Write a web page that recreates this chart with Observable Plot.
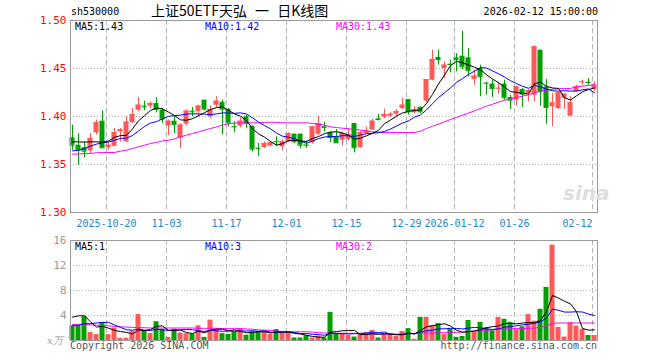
<!DOCTYPE html>
<html><head><meta charset="utf-8">
<script src="https://cdn.jsdelivr.net/npm/d3@7"></script>
<script src="https://cdn.jsdelivr.net/npm/@observablehq/plot@0.6"></script>
<style>
body{margin:0;background:#fff;}
#wrap{position:relative;width:660px;height:360px;overflow:hidden;font-family:"DejaVu Sans Mono",monospace;}
#wrap svg{position:absolute;left:0;}
.abs{position:absolute;white-space:pre;line-height:10px;font-size:10px;}
</style></head><body><div id="wrap"></div>
<script>
// ---------- data ----------
const dates = [
"2025-10-10","2025-10-13","2025-10-14","2025-10-15","2025-10-16","2025-10-17","2025-10-20","2025-10-21","2025-10-22","2025-10-23",
"2025-10-24","2025-10-27","2025-10-28","2025-10-29","2025-10-30","2025-10-31","2025-11-03","2025-11-04","2025-11-05","2025-11-06",
"2025-11-07","2025-11-10","2025-11-11","2025-11-12","2025-11-13","2025-11-14","2025-11-17","2025-11-18","2025-11-19","2025-11-20",
"2025-11-21","2025-11-24","2025-11-25","2025-11-26","2025-11-27","2025-11-28","2025-12-01","2025-12-02","2025-12-03","2025-12-04",
"2025-12-05","2025-12-08","2025-12-09","2025-12-10","2025-12-11","2025-12-12","2025-12-15","2025-12-16","2025-12-17","2025-12-18",
"2025-12-19","2025-12-22","2025-12-23","2025-12-24","2025-12-25","2025-12-26","2025-12-29","2025-12-30","2025-12-31","2026-01-05",
"2026-01-06","2026-01-07","2026-01-08","2026-01-09","2026-01-12","2026-01-13","2026-01-14","2026-01-15","2026-01-16","2026-01-19",
"2026-01-20","2026-01-21","2026-01-22","2026-01-23","2026-01-26","2026-01-27","2026-01-28","2026-01-29","2026-01-30","2026-02-02",
"2026-02-03","2026-02-04","2026-02-05","2026-02-06","2026-02-09","2026-02-10","2026-02-11","2026-02-12"];

const open = [
1.3778,1.3701,1.3674,1.3642,1.3830,1.3951,1.3674,1.3691,1.3840,1.3736,
1.3938,1.4066,1.4108,1.4108,1.4135,1.4066,1.3903,1.3951,1.3778,1.3920,
1.4056,1.4049,1.4170,1.3997,1.4118,1.4149,1.4073,1.3896,1.3899,1.3997,
1.3899,1.3670,1.3677,1.3691,1.3740,1.3684,1.3736,1.3816,1.3816,1.3705,
1.3726,1.3816,1.3892,1.3830,1.3788,1.3753,1.3760,1.3927,1.3674,1.3823,
1.3858,1.3976,1.3993,1.4003,1.4024,1.4083,1.4177,1.4038,1.4094,1.4160,
1.4378,1.4615,1.4500,1.4545,1.4611,1.4628,1.4611,1.4385,1.4500,1.4350,
1.4337,1.4290,1.4337,1.4198,1.4170,1.4281,1.4240,1.4222,1.4691,1.4309,
1.4101,1.4083,1.4188,1.4003,1.4257,1.4358,1.4356,1.4281];
const high = [
1.3910,1.3823,1.3736,1.3823,1.3962,1.4059,1.3726,1.3875,1.3875,1.3997,
1.4083,1.4198,1.4160,1.4153,1.4198,1.4083,1.3962,1.3997,1.3927,1.4066,
1.4094,1.4118,1.4170,1.4108,1.4205,1.4170,1.4083,1.3944,1.3986,1.4014,
1.3899,1.3719,1.3736,1.3736,1.3788,1.3753,1.3830,1.3816,1.3816,1.3747,
1.3892,1.4003,1.3941,1.3840,1.3865,1.3840,1.3875,1.3927,1.3847,1.3892,
1.3969,1.4021,1.4076,1.4038,1.4073,1.4188,1.4177,1.4101,1.4101,1.4385,
1.4691,1.4691,1.4569,1.4587,1.4656,1.4889,1.4708,1.4483,1.4535,1.4350,
1.4378,1.4351,1.4378,1.4222,1.4316,1.4292,1.4281,1.4736,1.4691,1.4385,
1.4240,1.4247,1.4233,1.4205,1.4326,1.4378,1.4396,1.4361];
const low = [
1.3649,1.3493,1.3573,1.3615,1.3806,1.3667,1.3649,1.3684,1.3736,1.3726,
1.3927,1.4049,1.4059,1.4083,1.4038,1.3927,1.3799,1.3823,1.3667,1.3899,
1.3997,1.3997,1.4059,1.3976,1.4094,1.3806,1.3892,1.3830,1.3882,1.3872,
1.3632,1.3587,1.3667,1.3684,1.3684,1.3642,1.3726,1.3719,1.3663,1.3667,
1.3712,1.3802,1.3840,1.3726,1.3719,1.3691,1.3747,1.3622,1.3670,1.3816,
1.3858,1.3955,1.3976,1.3990,1.3997,1.4073,1.4014,1.4031,1.4031,1.4142,
1.4372,1.4535,1.4396,1.4455,1.4465,1.4490,1.4413,1.4326,1.4205,1.4222,
1.4198,1.4233,1.4170,1.4073,1.4108,1.4094,1.4153,1.4153,1.4108,1.3920,
1.3892,1.4073,1.4073,1.4003,1.4257,1.4326,1.4326,1.4257];
const close = [
1.3701,1.3649,1.3639,1.3771,1.3934,1.3674,1.3701,1.3833,1.3861,1.3941,
1.4021,1.4118,1.4101,1.4135,1.4073,1.3972,1.3951,1.3917,1.3910,1.4056,
1.4049,1.4108,1.4076,1.4073,1.4160,1.4076,1.3934,1.3892,1.3951,1.3927,
1.3660,1.3667,1.3719,1.3726,1.3736,1.3736,1.3823,1.3736,1.3701,1.3701,
1.3892,1.3927,1.3885,1.3781,1.3726,1.3823,1.3813,1.3674,1.3833,1.3851,
1.3951,1.3969,1.4021,1.4024,1.4052,1.4118,1.4049,1.4073,1.4049,1.4385,
1.4594,1.4594,1.4535,1.4542,1.4594,1.4517,1.4476,1.4420,1.4413,1.4347,
1.4292,1.4294,1.4194,1.4170,1.4309,1.4233,1.4267,1.4726,1.4257,1.4094,
1.4142,1.4247,1.4233,1.4142,1.4309,1.4361,1.4354,1.4326];

const ma5 = [
1.3736,1.3736,1.3733,1.3736,1.3736,1.3733,1.3744,1.3783,1.3801,1.3802,
1.3871,1.3955,1.4008,1.4063,1.4090,1.4080,1.4046,1.4010,1.3965,1.3961,
1.3977,1.4008,1.4040,1.4072,1.4093,1.4099,1.4064,1.4027,1.4003,1.3956,
1.3873,1.3819,1.3785,1.3740,1.3702,1.3717,1.3748,1.3751,1.3746,1.3739,
1.3771,1.3791,1.3821,1.3837,1.3842,1.3828,1.3806,1.3763,1.3774,1.3799,
1.3824,1.3856,1.3925,1.3963,1.4003,1.4037,1.4053,1.4063,1.4068,1.4135,
1.4230,1.4339,1.4431,1.4530,1.4575,1.4560,1.4536,1.4513,1.4487,1.4435,
1.4390,1.4353,1.4308,1.4259,1.4252,1.4240,1.4235,1.4341,1.4358,1.4315,
1.4297,1.4293,1.4195,1.4172,1.4215,1.4258,1.4280,1.4298];
const ma10 = [
1.3642,1.3649,1.3667,1.3691,1.3712,1.3726,1.3733,1.3753,1.3771,1.3775,
1.3802,1.3849,1.3896,1.3932,1.3946,1.3976,1.4001,1.4009,1.4014,1.4025,
1.4028,1.4027,1.4025,1.4019,1.4027,1.4038,1.4036,1.4033,1.4038,1.4025,
1.3986,1.3942,1.3906,1.3871,1.3829,1.3795,1.3784,1.3768,1.3743,1.3721,
1.3744,1.3770,1.3786,1.3792,1.3791,1.3800,1.3799,1.3792,1.3806,1.3821,
1.3826,1.3831,1.3844,1.3869,1.3901,1.3931,1.3954,1.3994,1.4016,1.4069,
1.4133,1.4196,1.4247,1.4299,1.4355,1.4395,1.4438,1.4472,1.4509,1.4505,
1.4475,1.4445,1.4411,1.4373,1.4343,1.4315,1.4294,1.4325,1.4309,1.4284,
1.4269,1.4264,1.4268,1.4265,1.4265,1.4278,1.4287,1.4246];
const ma30 = [
1.3608,1.3608,1.3615,1.3615,1.3622,1.3625,1.3625,1.3625,1.3639,1.3649,
1.3667,1.3684,1.3701,1.3719,1.3729,1.3747,1.3753,1.3767,1.3788,1.3806,
1.3823,1.3840,1.3858,1.3875,1.3892,1.3910,1.3924,1.3931,1.3934,1.3934,
1.3934,1.3934,1.3938,1.3941,1.3938,1.3934,1.3934,1.3934,1.3934,1.3934,
1.3927,1.3920,1.3910,1.3892,1.3885,1.3878,1.3872,1.3865,1.3858,1.3847,
1.3840,1.3837,1.3833,1.3833,1.3833,1.3833,1.3833,1.3833,1.3847,1.3875,
1.3899,1.3920,1.3944,1.3969,1.3990,1.4014,1.4035,1.4059,1.4083,1.4108,
1.4128,1.4149,1.4170,1.4184,1.4198,1.4212,1.4226,1.4247,1.4267,1.4274,
1.4285,1.4288,1.4292,1.4292,1.4309,1.4316,1.4323,1.4333];

// volume in 万 (x10k)
const volume = [
2.35,2.35,3.8,1.3,0.95,2.9,0.95,2.0,0.35,0.35,
1.5,4.15,1.65,1.1,3.0,1.8,0.5,1.8,1.2,1.1,
1.0,2.35,0.5,3.25,1.9,1.1,0.95,1.4,1.9,0.85,
1.4,1.4,1.4,0.95,1.75,1.25,1.35,0.4,0.4,0.75,
0.4,0.7,0.4,4.5,1.1,1.1,0.85,0.55,1.1,1.25,
1.6,0.4,1.0,1.0,0.7,1.45,1.9,0.2,3.7,3.7,
2.35,2.7,0.95,1.8,0.5,0.65,3.2,1.4,2.9,2.05,
1.55,3.7,3.4,2.9,1.75,2.2,4.15,3.1,5.0,8.5,
15.25,2.1,0.55,2.85,2.3,1.8,0.8,0.8];
const volMa5 = [
3.73,3.95,3.95,3.0,2.15,2.26,1.98,1.62,1.43,1.31,
1.03,1.67,1.6,1.75,2.28,2.34,1.61,1.64,1.66,1.28,
1.12,1.49,1.23,1.64,1.8,1.82,1.54,1.72,1.45,1.24,
1.3,1.39,1.39,1.2,1.38,1.35,1.34,1.14,1.03,0.83,
0.66,0.53,0.53,1.35,1.42,1.56,1.59,1.62,0.94,0.97,
1.07,0.98,1.07,1.05,0.94,0.91,1.21,1.05,1.59,2.19,
2.37,2.53,2.68,2.3,1.66,1.32,1.42,1.51,1.73,2.04,
2.22,2.32,2.72,2.72,2.66,2.79,2.88,2.82,3.24,4.59,
7.2,6.79,6.28,5.85,4.61,1.92,1.66,1.71];
const volMa10 = [
2.35,2.45,2.7,2.7,2.8,2.9,2.9,2.5,2.1,1.73,
1.65,1.83,1.61,1.59,1.8,1.69,1.64,1.62,1.71,1.78,
1.73,1.55,1.44,1.65,1.54,1.47,1.52,1.48,1.55,1.52,
1.56,1.47,1.56,1.33,1.31,1.33,1.37,1.27,1.12,1.11,
1.0,0.94,0.84,1.19,1.13,1.11,1.06,1.08,1.15,1.2,
1.32,1.29,1.35,1.0,0.96,0.99,1.1,1.06,1.32,1.57,
1.64,1.87,1.87,1.95,1.93,1.85,1.98,2.1,2.02,1.85,
1.77,1.87,2.12,2.23,2.35,2.51,2.6,2.77,2.98,3.63,
5.0,4.84,4.55,4.55,4.6,4.56,4.23,4.0];
const volMa30 = [
2.55,2.55,2.55,2.5,2.45,2.4,2.35,2.25,2.2,2.15,
2.1,2.05,2.05,2.0,2.0,2.0,2.0,2.0,2.0,2.0,
2.0,1.95,1.95,1.95,1.95,1.9,1.9,1.9,1.9,1.85,
1.8,1.7,1.65,1.6,1.5,1.45,1.45,1.4,1.4,1.4,
1.35,1.25,1.2,1.2,1.15,1.15,1.15,1.15,1.1,1.1,
1.1,1.1,1.05,1.0,1.0,1.05,1.1,1.15,1.2,1.2,
1.2,1.25,1.25,1.3,1.3,1.35,1.4,1.55,1.6,1.65,
1.7,1.8,1.85,1.9,1.9,1.9,1.95,2.0,2.1,2.35,
2.75,2.8,2.8,2.8,2.8,2.8,2.8,2.8];

const tickDates  = ["2025-10-20","2025-11-03","2025-11-17","2025-12-01","2025-12-15","2025-12-29","2026-01-12","2026-01-26","2026-02-12"];
const tickLabels = ["2025-10-20","11-03","11-17","12-01","12-15","12-29","2026-01-12","01-26","02-12"];
const priceTicks = [1.30, 1.35, 1.40, 1.45, 1.50];
const volTicks   = [4, 8, 12, 16];

const symbol   = "sh530000";
const title    = "上证50ETF天弘 一 日K线图";
const stamp    = "2026-02-12 15:00:00";
const priceLegend = ["MA5:1.43", "MA10:1.42", "MA30:1.43"];
const volLegend   = ["MA5:1", "MA10:3", "MA30:2"];
const volUnit  = "x万";
const copyright = "Copyright 2026 SINA.COM";
const siteUrl  = "http://finance.sina.com.cn";

// ---------- drawing ----------
const UP = "#ff5858", DOWN = "#00a000";
const MA_COLORS = ["#000000", "#0000ff", "#ff00ff"];
const GRID = "#b4b4b4";
const rows = dates.map((d, i) => ({i, date: d, open: open[i], high: high[i], low: low[i], close: close[i], vol: volume[i]}));
const col = d => d.close >= d.open ? UP : DOWN;
const half = 2.5 / 6;
const xDomain = [-1/3, 87.5];
const tickIdx = tickDates.map(d => dates.indexOf(d));
const gridX = tickIdx.map(i => i - 1/3);
const style = {fontFamily: "'DejaVu Sans Mono', monospace", fontSize: "10px", background: "transparent", overflow: "visible"};

const mainPlot = Plot.plot({
  width: 660, height: 236,
  marginLeft: 70, marginRight: 63, marginTop: 20, marginBottom: 24,
  x: {domain: xDomain, axis: null},
  y: {domain: [1.30, 1.50], axis: null},
  color: {type: "identity"},
  style,
  marks: [
    Plot.ruleY(priceTicks.slice(1, -1), {stroke: GRID, strokeDasharray: "1,2"}),
    Plot.ruleX(gridX, {stroke: GRID, strokeDasharray: "5,3"}),
    Plot.ruleX(rows, {x: "i", y1: "low", y2: "high", stroke: col}),
    Plot.rect(rows, {x1: d => d.i - half, x2: d => d.i + half,
      y1: d => Math.min(d.open, d.close), y2: d => Math.max(d.open, d.close), fill: col}),
    Plot.ruleY(rows, {y: "close", x1: d => d.i - half, x2: d => d.i + half, stroke: col}),
    Plot.lineY(ma30, {x: (d, i) => i, stroke: MA_COLORS[2], strokeWidth: 1}),
    Plot.lineY(ma10, {x: (d, i) => i, stroke: MA_COLORS[1], strokeWidth: 1}),
    Plot.lineY(ma5,  {x: (d, i) => i, stroke: MA_COLORS[0], strokeWidth: 1}),
    Plot.frame({stroke: "#9a9a9a"}),
    Plot.text(priceTicks, {y: d => d, frameAnchor: "left", text: d => d.toFixed(2), textAnchor: "end", dx: -4, fill: "#ff0000", fontSize: 11}),
    Plot.text(tickIdx.slice(0, -1), {x: d => d - 1/3, text: (d, i) => tickLabels[i], frameAnchor: "bottom", dy: 14, fill: "#1888d8", fontSize: 10}),
    Plot.text(tickIdx.slice(-1), {x: d => d - 1/3, text: () => tickLabels[tickLabels.length - 1], frameAnchor: "bottom", dy: 14, textAnchor: "end", fill: "#1888d8", fontSize: 10})
  ]
});

const volPlot = Plot.plot({
  width: 660, height: 124,
  marginLeft: 70, marginRight: 63, marginTop: 4, marginBottom: 20,
  x: {domain: xDomain, axis: null},
  y: {domain: [0, 16], axis: null},
  color: {type: "identity"},
  style,
  marks: [
    Plot.ruleY(volTicks.slice(0, -1), {stroke: GRID, strokeDasharray: "1,2"}),
    Plot.ruleX(gridX, {stroke: GRID, strokeDasharray: "5,3"}),
    Plot.rect(rows, {x1: d => d.i - half, x2: d => d.i + half, y1: 0, y2: "vol", fill: col}),
    Plot.lineY(volMa30, {x: (d, i) => i, stroke: MA_COLORS[2], strokeWidth: 1}),
    Plot.lineY(volMa10, {x: (d, i) => i, stroke: MA_COLORS[1], strokeWidth: 1}),
    Plot.lineY(volMa5,  {x: (d, i) => i, stroke: MA_COLORS[0], strokeWidth: 1}),
    Plot.frame({stroke: "#9a9a9a"}),
    Plot.text(volTicks, {y: d => d, frameAnchor: "left", text: d => String(d), textAnchor: "end", dx: -4, fill: "#999999", fontSize: 11})
  ]
});

const wrap = document.getElementById("wrap");
mainPlot.style.top = "0px";
volPlot.style.top = "236px";
wrap.appendChild(mainPlot);
wrap.appendChild(volPlot);

function label(text, css) {
  const el = document.createElement("div");
  el.className = "abs";
  el.textContent = text;
  Object.assign(el.style, css);
  wrap.appendChild(el);
  return el;
}
label(symbol, {left: "71px", top: "7px", fontSize: "10px", color: "#000"});
label(title, {left: "151px", top: "3px", fontSize: "14px", lineHeight: "15px", wordSpacing: "5px", fontFamily: "'Noto Sans CJK SC', sans-serif", color: "#000"});
label(stamp, {right: "62px", top: "7px", fontSize: "10px", color: "#000"});
const legendX = [75, 205, 336];
priceLegend.forEach((t, k) => label(t, {left: legendX[k] + "px", top: "22px", fontSize: "10px", color: MA_COLORS[k]}));
volLegend.forEach((t, k) => label(t, {left: legendX[k] + "px", top: "242px", fontSize: "10px", color: MA_COLORS[k]}));
label(volUnit, {left: "47px", top: "336px", fontSize: "10px", color: "#999", fontStyle: "italic", fontFamily: "'DejaVu Serif', serif"});
label(copyright, {left: "70px", top: "341px", fontSize: "10px", color: "#555"});
label(siteUrl, {right: "63px", top: "341px", fontSize: "10px", color: "#555"});
label("sina", {left: "563px", top: "183px", fontSize: "20px", lineHeight: "20px", fontWeight: "bold", fontStyle: "italic", fontFamily: "'DejaVu Sans', sans-serif", color: "#dedede"});
</script>
</body></html>
